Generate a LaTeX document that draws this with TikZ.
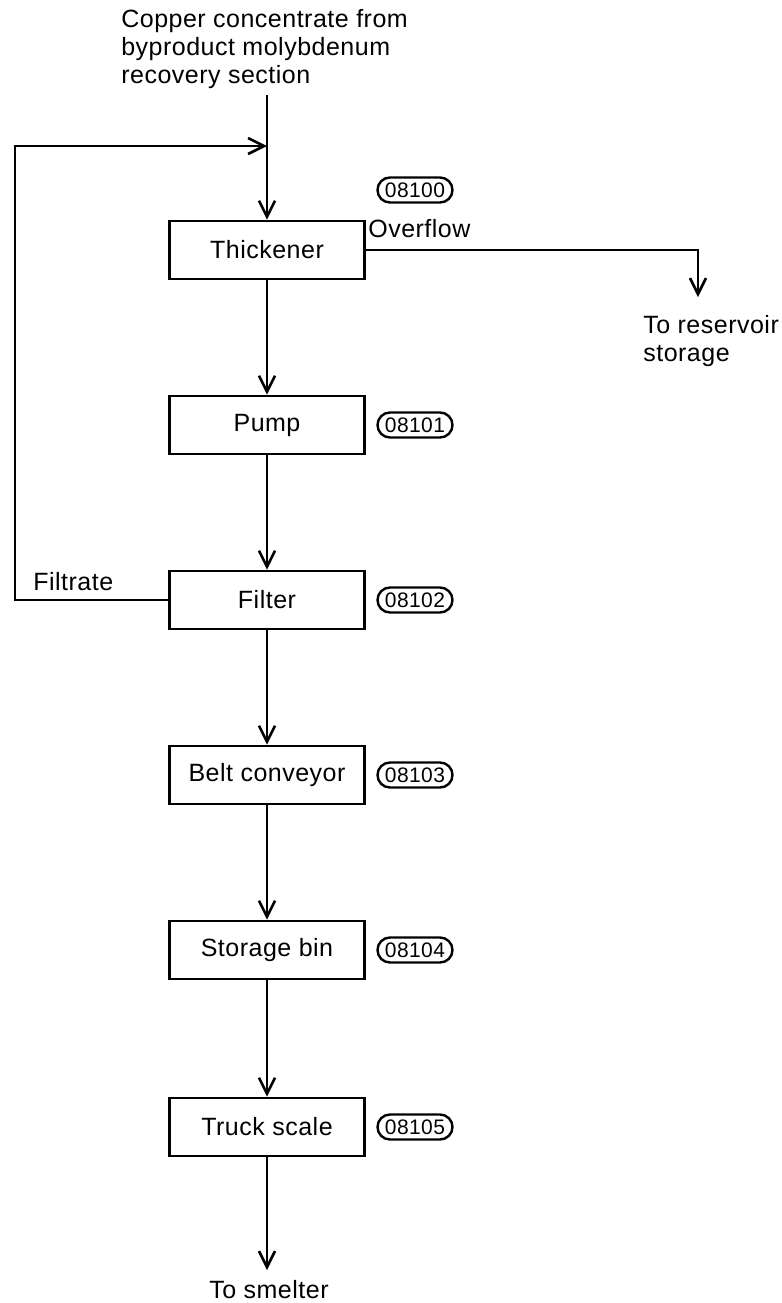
\documentclass[tikz,border=0pt]{standalone}
\usepackage{fontspec}
\setmainfont[LetterSpace=2]{Liberation Sans}
\usetikzlibrary{arrows.meta,shapes.misc}

\begin{document}
\begin{tikzpicture}[x=0.5pt,y=-0.5pt,line width=1.3pt,
  unit/.style={draw,line width=1.4pt,minimum width=97.5pt,minimum height=29pt,inner sep=0pt,font=\fontsize{12.5}{14}\selectfont},
  tag/.style={rounded rectangle,draw,line width=1.2pt,minimum height=12.5pt,inner xsep=2.5pt,inner ysep=1pt,font=\fontsize{10.5}{12}\selectfont},
  lbl/.style={align=left,inner sep=0pt,font=\fontsize{12.5}{14}\selectfont},
  flow/.style={-{Straight Barb[length=8pt,width=8pt]}}]
 		\useasboundingbox (0,0) rectangle (782,1303);
 		% units of the copper concentrate line
 		\node[unit] (thick) at (267,250) {Thickener};
 		\node[unit] (pump) at (267,425) {Pump};
 		\node[unit] (filt) at (267,600) {Filter};
 		\node[unit] (belt) at (267,775) {Belt conveyor};
 		\node[unit] (bin) at (267,950) {Storage bin};
 		\node[unit] (truck) at (267,1127) {Truck scale};
 		\node[tag] (t0) at (415,190) {08100};
 		\node[tag] (t1) at (415,425) {08101};
 		\node[tag] (t2) at (415,600) {08102};
 		\node[tag] (t3) at (415,775) {08103};
 		\node[tag] (t4) at (415,950) {08104};
 		\node[tag] (t5) at (415,1127) {08105};
 		% texts
 		\node[lbl,anchor=north west] (src) at (120,8) {Copper concentrate from\\byproduct molybdenum\\recovery section};
 		\node[lbl,anchor=west] (ovf) at (367,229) {Overflow};
 		\node[lbl,anchor=north west] (res) at (642,314) {To reservoir\\storage};
 		\node[lbl,anchor=south west] (fil) at (32,592) {Filtrate};
 		\node[lbl,anchor=north] (sm) at (269,1279) {To smelter};
 		\coordinate (top) at (267,95);
 		\coordinate (mix) at (267,146);
 		\coordinate (fu) at (15,146);
 		\coordinate (ovt) at (698,297);
 		\coordinate (out) at (267,1270);
 		% flows
 		\draw[flow] (top) -- (thick);
 		\draw[flow] (filt.west) -| (fu) -- (mix);
 		\draw[flow] (thick.east) -| (ovt);
 		\draw[flow] (thick) edge (pump);
 		\draw[flow] (pump) edge (filt);
 		\draw[flow] (filt) edge (belt);
 		\draw[flow] (belt) edge (bin);
 		\draw[flow] (bin) edge (truck);
 		\draw[flow] (truck) -- (out);
 		\end{tikzpicture}
\end{document}
